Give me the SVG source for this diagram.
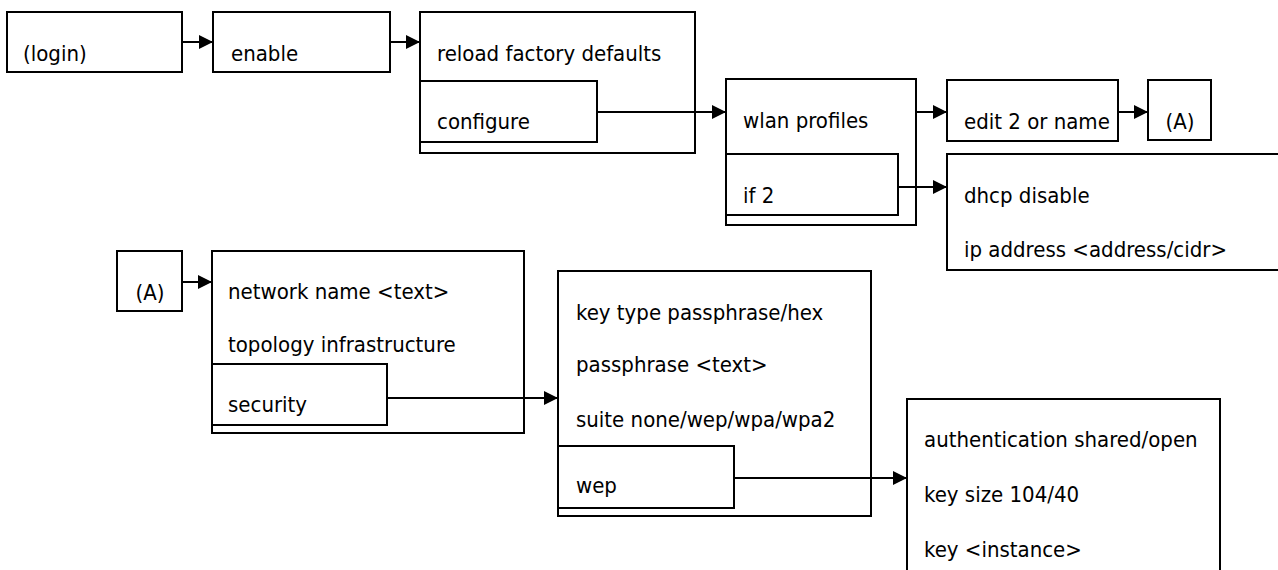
<svg xmlns="http://www.w3.org/2000/svg" width="1278" height="570" viewBox="0 0 1278 570">
<defs>
<style>
.b{fill:#fff;stroke:#000;stroke-width:2}
.i{fill:none;stroke:#000;stroke-width:2}
.c{fill:none;stroke:#000;stroke-width:2;marker-end:url(#ah)}
text{font-family:"DejaVu Sans Condensed","DejaVu Sans",sans-serif;font-stretch:condensed;font-size:22px;fill:#000}
.m{text-anchor:middle}
</style>
<marker id="ah" markerUnits="userSpaceOnUse" markerWidth="16" markerHeight="16" refX="14" refY="7" orient="auto">
<path d="M0,0 L14,7 L0,14 Z" fill="#000"/>
</marker>
</defs>
<rect width="1278" height="570" fill="#fff"/>
<g id="login"><rect class="b" x="7" y="12" width="175" height="60"/><text x="23" y="61">(login)</text></g>
<g id="enable"><rect class="b" x="213" y="12" width="177" height="60"/><text x="231" y="61">enable</text></g>
<g id="reload"><rect class="b" x="420" y="12" width="275" height="141"/><text x="437" y="61">reload factory defaults</text></g>
<g id="configure"><rect class="i" x="420" y="81" width="177" height="61"/><text x="437" y="129">configure</text></g>
<g id="wlan"><rect class="b" x="726" y="79" width="190" height="146"/><text x="743" y="128">wlan profiles</text></g>
<g id="if2"><rect class="i" x="726" y="154" width="172" height="61"/><text x="743" y="203">if 2</text></g>
<g id="edit"><rect class="b" x="947" y="80" width="171" height="61"/><text x="964" y="129">edit 2 or name</text></g>
<g id="a1"><rect class="b" x="1148" y="80" width="63" height="60"/><text class="m" x="1180" y="129">(A)</text></g>
<g id="dhcp"><rect class="b" x="947" y="154" width="345" height="116"/><text x="964" y="203">dhcp disable</text><text x="964" y="257">ip address &lt;address/cidr&gt;</text></g>
<g id="a2"><rect class="b" x="117" y="251" width="65" height="60"/><text class="m" x="150" y="300">(A)</text></g>
<g id="network"><rect class="b" x="212" y="251" width="312" height="182"/><text x="228" y="299">network name &lt;text&gt;</text><text x="228" y="352">topology infrastructure</text></g>
<g id="security"><rect class="i" x="212" y="364" width="175" height="61"/><text x="228" y="412">security</text></g>
<g id="keytype"><rect class="b" x="558" y="271" width="313" height="245"/><text x="576" y="320">key type passphrase/hex</text><text x="576" y="372">passphrase &lt;text&gt;</text><text x="576" y="427">suite none/wep/wpa/wpa2</text></g>
<g id="wep"><rect class="i" x="558" y="446" width="176" height="62"/><text x="576" y="493">wep</text></g>
<g id="auth"><rect class="b" x="907" y="399" width="313" height="200"/><text x="924" y="447">authentication shared/open</text><text x="924" y="502">key size 104/40</text><text x="924" y="557">key &lt;instance&gt;</text></g>
<g id="connectors">
<line class="c" x1="182" y1="42" x2="213" y2="42"/>
<line class="c" x1="390" y1="42" x2="420" y2="42"/>
<line class="c" x1="597" y1="112" x2="726" y2="112"/>
<line class="c" x1="916" y1="112" x2="947" y2="112"/>
<line class="c" x1="898" y1="187" x2="947" y2="187"/>
<line class="c" x1="1118" y1="112" x2="1148" y2="112"/>
<line class="c" x1="182" y1="282" x2="212" y2="282"/>
<line class="c" x1="387" y1="398" x2="558" y2="398"/>
<line class="c" x1="734" y1="478" x2="907" y2="478"/>
</g>
</svg>
